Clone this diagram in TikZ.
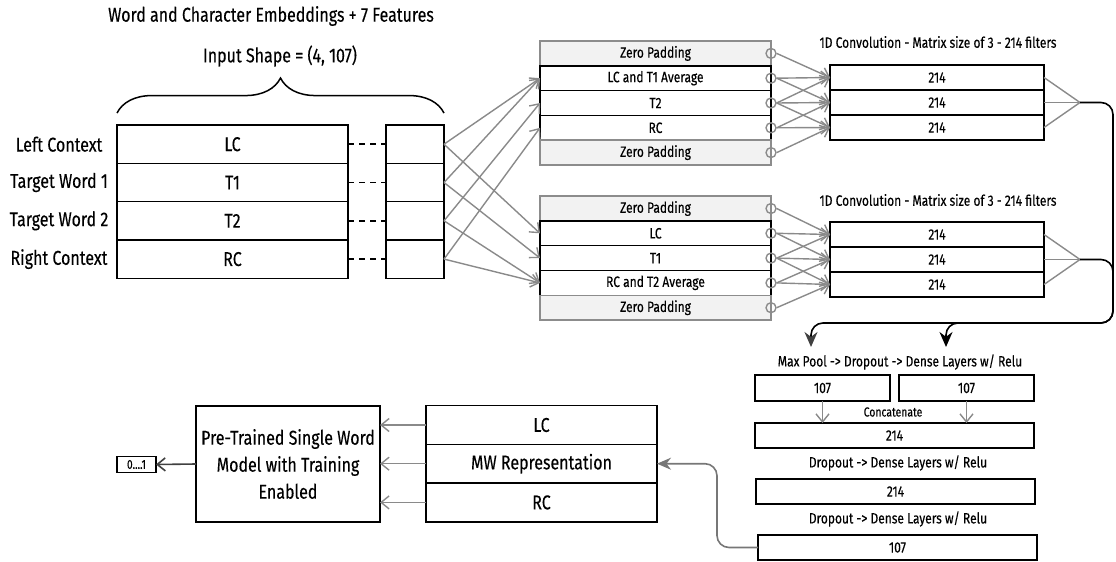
\documentclass[tikz,border=0pt]{standalone}
\usepackage{fontspec}
\setmainfont{Fira Sans}[FakeStretch=0.8, FakeBold=0.25]
\usetikzlibrary{arrows.meta, decorations.pathreplacing, positioning}
\definecolor{linegray}{HTML}{8A8A8A}
\definecolor{padgray}{HTML}{8C8C8C}
\definecolor{padfill}{HTML}{F2F2F2}
\definecolor{retgray}{HTML}{777777}
\tikzset{
  wbox/.style={draw, line width=1.5pt, inner sep=0pt, outer sep=0pt, fill=white},
  inrow/.style={wbox, minimum width=231pt, minimum height=38.3pt, font=\fontsize{20}{22}\selectfont},
  smallrow/.style={wbox, minimum width=58pt, minimum height=38.3pt},
  sidetext/.style={font=\fontsize{20}{22}\selectfont, inner sep=0pt},
  padrow/.style={wbox, draw=padgray, fill=padfill, minimum width=231pt, minimum height=24.8pt, font=\fontsize{15}{17}\selectfont},
  midrow/.style={wbox, minimum width=231pt, minimum height=24.8pt, font=\fontsize{15}{17}\selectfont},
  convrow/.style={wbox, minimum width=214pt, minimum height=25pt, font=\fontsize{15}{17}\selectfont},
  pcirc/.style={circle, draw=padgray, line width=1.4pt, minimum size=10pt, inner sep=0pt},
  midtext/.style={font=\fontsize{15}{17}\selectfont, inner sep=0pt},
  garrow/.style={draw=linegray, line width=1.4pt, -{Straight Barb[length=8pt, width=13pt]}},
  gline/.style={draw=linegray, line width=1.4pt},
  flowline/.style={draw=black, line width=1.6pt, rounded corners=12pt},
}
\begin{document}
\begin{tikzpicture}[x=1pt, y=-1pt]
\useasboundingbox (0,0) rectangle (1116,562);

% input
\node[sidetext] (ttl) at (271,16) {Word and Character Embeddings + 7 Features};
\node[sidetext] (shp) at (280,56) {Input Shape = (4, 107)};
\node[inrow] (ix1) at (232.5,144.2) {LC};
\node[inrow, below=0pt of ix1] (ix2) {T1};
\node[inrow, below=0pt of ix2] (ix3) {T2};
\node[inrow, below=0pt of ix3] (ix4) {RC};
\node[smallrow] (sx1) at (415,144.2) {};
\node[smallrow, below=0pt of sx1] (sx2) {};
\node[smallrow, below=0pt of sx2] (sx3) {};
\node[smallrow, below=0pt of sx3] (sx4) {};
\node[sidetext] (lt1) at (59,144.2) {Left Context};
\node[sidetext] (lt2) at (lt1 |- ix2) {Target Word 1};
\node[sidetext] (lt3) at (lt1 |- ix3) {Target Word 2};
\node[sidetext] (lt4) at (lt1 |- ix4) {Right Context};
\foreach \i in {1,...,4}
  \draw[line width=1.5pt, dash pattern=on 6pt off 5pt] (ix\i.east) -- (sx\i.west);
\draw[decorate, decoration={brace, amplitude=35pt}, line width=1.5pt]
  ([yshift=12pt]ix1.north west) -- ([yshift=12pt]sx1.north east);

% padded inputs
\node[padrow] (pa1) at (655.5,53.4) {Zero Padding};
\node[midrow, below=0pt of pa1] (pa2) {LC and T1 Average};
\node[midrow, below=0pt of pa2] (pa3) {T2};
\node[midrow, below=0pt of pa3] (pa4) {RC};
\node[padrow, below=0pt of pa4] (pa5) {Zero Padding};
\node[padrow] (pb1) at (655.5,208.5) {Zero Padding};
\node[midrow, below=0pt of pb1] (pb2) {LC};
\node[midrow, below=0pt of pb2] (pb3) {T1};
\node[midrow, below=0pt of pb3] (pb4) {RC and T2 Average};
\node[padrow, below=0pt of pb4] (pb5) {Zero Padding};
\foreach \i/\j in {1/2, 2/2, 3/3, 4/4}
  \draw[garrow] (sx\i.east) -- (pa\j.west);
\foreach \i/\j in {1/2, 2/3, 3/4, 4/4}
  \draw[garrow] (sx\i.east) -- (pb\j.west);
\foreach \i in {1,...,5} {
  \node[pcirc] (ka\i) at (pa\i.east) {};
  \node[pcirc] (kb\i) at (pb\i.east) {};
}

% convolutions
\node[midtext] (cva) at (938,42) {1D Convolution - Matrix size of 3 - 214 filters};
\node[convrow] (ca1) at (937,77.5) {214};
\node[convrow, below=0pt of ca1] (ca2) {214};
\node[convrow, below=0pt of ca2] (ca3) {214};
\node[midtext] (cvb) at (938,200) {1D Convolution - Matrix size of 3 - 214 filters};
\node[convrow] (cb1) at (937,234.5) {214};
\node[convrow, below=0pt of cb1] (cb2) {214};
\node[convrow, below=0pt of cb2] (cb3) {214};
\foreach \i/\j in {1/1, 2/1, 3/1, 2/2, 3/2, 4/2, 3/3, 4/3, 5/3} {
  \draw[garrow] (ka\i.east) -- (ca\j.west);
  \draw[garrow] (kb\i.east) -- (cb\j.west);
}
\coordinate (fa) at (1080,102.5);
\coordinate (fb) at (1080,259.5);
\foreach \i in {1,2,3} {
  \draw[gline] (ca\i.east) -- (fa);
  \draw[gline] (cb\i.east) -- (fb);
}

% pooling and dense layers
\coordinate (ma) at (811,347);
\coordinate (mb) at (946,347);
\draw[flowline, -{Stealth[length=15pt, width=13pt, color=black!75]}]
  (fa) -- (1113,102.5) -- (1113,323) -- (811,323) -- (ma);
\draw[flowline, -{Stealth[length=15pt, width=13pt]}]
  (fb) -- (1113,259.5) -- (1113,323) -- (946,323) -- (mb);
\node[midtext] (mpt) at (900,362) {Max Pool -> Dropout -> Dense Layers w/ Relu};
\node[convrow, minimum width=135pt, minimum height=26pt] (pl1) at (822.5,388) {107};
\node[convrow, minimum width=135pt, minimum height=26pt] (pl2) at (966.5,388) {107};
\node[midtext, font=\fontsize{13}{15}\selectfont] (cct) at (893,412) {Concatenate};
\node[convrow, minimum width=279pt] (cc) at (894.5,435.5) {214};
\draw[garrow] (pl1.south) -- (pl1.south |- cc.north);
\draw[garrow] (pl2.south) -- (pl2.south |- cc.north);
\node[midtext] (dt1) at (898,463) {Dropout -> Dense Layers w/ Relu};
\node[convrow, minimum width=279pt] (dn1) at (895.5,491.5) {214};
\node[midtext] (dt2) at (898,519) {Dropout -> Dense Layers w/ Relu};
\node[convrow, minimum width=279pt] (dn2) at (897.5,547.5) {107};

% multi word representation
\node[inrow, minimum height=38.7pt] (mw1) at (541.5,425) {LC};
\node[inrow, minimum height=38.7pt, below=0pt of mw1] (mw2) {MW Representation};
\node[inrow, minimum height=38.7pt, below=0pt of mw2] (mw3) {RC};
\draw[draw=retgray, line width=1.6pt, rounded corners=12pt, -{Stealth[length=14pt, width=12pt]}]
  (dn2.west) -- ++(-41,0) |- (mw2.east);
\node[wbox, minimum width=184pt, minimum height=116pt, align=center,
      font=\fontsize{20}{27}\selectfont] (pre) at (288,464)
  {Pre-Trained Single Word\\Model with Training\\Enabled};
\foreach \i in {1,2,3}
  \draw[garrow] (mw\i.west) -- (mw\i.west -| pre.east);
\node[wbox, minimum width=39pt, minimum height=16pt, font=\fontsize{13}{14}\selectfont] (out) at (136.5,464.5) {0....1};
\draw[draw=black!75, line width=1.6pt, -{Straight Barb[length=8pt, width=13pt]}] (pre.west) -- (out.east);
\end{tikzpicture}
\end{document}
